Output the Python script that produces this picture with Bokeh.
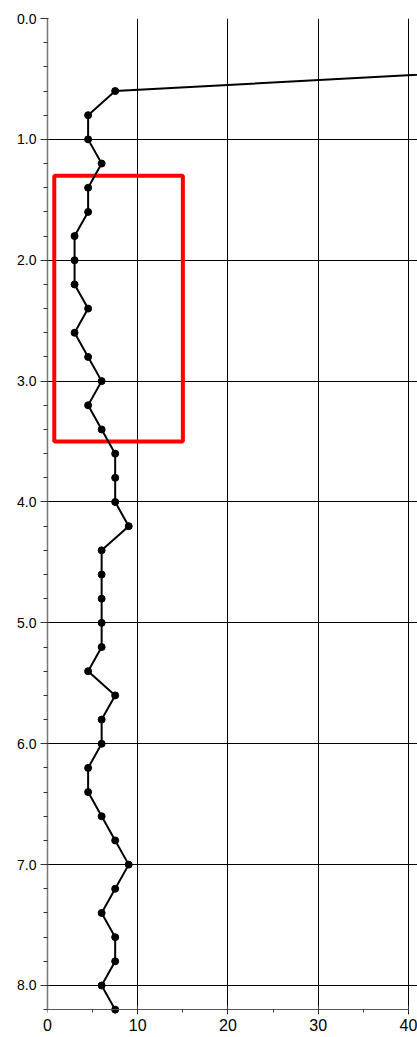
from bokeh.plotting import figure
from bokeh.models import Range1d, FixedTicker, NumeralTickFormatter, LinearAxis
from bokeh.embed import file_html
from bokeh.resources import INLINE

# Data: depth (m) vs value
depth = [0.4, 0.6, 0.8, 1.0, 1.2, 1.4, 1.6, 1.8, 2.0, 2.2, 2.4, 2.6, 2.8, 3.0,
         3.2, 3.4, 3.6, 3.8, 4.0, 4.2, 4.4, 4.6, 4.8, 5.0, 5.2, 5.4, 5.6, 5.8,
         6.0, 6.2, 6.4, 6.6, 6.8, 7.0, 7.2, 7.4, 7.6, 7.8, 8.0, 8.2]
value = [57, 7.5, 4.5, 4.5, 6, 4.5, 4.5, 3, 3, 3, 4.5, 3, 4.5, 6,
         4.5, 6, 7.5, 7.5, 7.5, 9, 6, 6, 6, 6, 6, 4.5, 7.5, 6,
         6, 4.5, 4.5, 6, 7.5, 9, 7.5, 6, 7.5, 7.5, 6, 7.5]

# Highlight box
box_x = [0.75, 15]
box_depth = [1.3, 3.5]

x_ticks = [0, 10, 20, 30, 40]
x_minor = [5, 15, 25, 35]
y_ticks = [0, 1, 2, 3, 4, 5, 6, 7, 8]
y_minor = [round(0.2 * i, 1) for i in range(0, 42)]
depth_max = 8.2

FONT = "Liberation Sans"

p = figure(width=417, height=1037, output_backend="svg", toolbar_location=None,
           x_range=Range1d(0, 41), y_range=Range1d(depth_max + 0.04, 0),
           min_border_left=47, min_border_right=0, min_border_top=18,
           min_border_bottom=23)
p.outline_line_color = None
p.background_fill_color = "white"
p.border_fill_color = "white"

# grids
p.xgrid.ticker = FixedTicker(ticks=[10, 20, 30, 40])
p.ygrid.ticker = FixedTicker(ticks=[1, 2, 3, 4, 5, 6, 7, 8])
p.xgrid.grid_line_color = "black"
p.ygrid.grid_line_color = "black"
p.xgrid.grid_line_width = 1
p.ygrid.grid_line_width = 1

# x axis labels (regular axis, labels only)
xa = p.xaxis[0]
xa.ticker = FixedTicker(ticks=x_ticks)
xa.axis_line_color = None
xa.major_tick_line_color = None
xa.minor_tick_line_color = None
xa.major_tick_out = 0
xa.major_tick_in = 0
xa.minor_tick_out = 0
xa.major_label_standoff = 4
xa.major_label_text_font = FONT
xa.major_label_text_font_size = "16px"
xa.major_label_text_color = "black"

# x axis line and ticks at the bottom depth
xl = LinearAxis(fixed_location=depth_max,
                ticker=FixedTicker(ticks=x_ticks, minor_ticks=x_minor),
                bounds=(0, 40))
xl.axis_line_color = "#555555"
xl.major_tick_line_color = "#333333"
xl.minor_tick_line_color = "#333333"
xl.major_tick_out = 3
xl.major_tick_in = 4
xl.minor_tick_out = 3
xl.minor_tick_in = 0
xl.major_label_text_font_size = "0px"
xl.major_label_text_color = None
p.add_layout(xl, "below")

# y axis
ya = p.yaxis[0]
ya.ticker = FixedTicker(ticks=y_ticks, minor_ticks=y_minor)
ya.bounds = (0, depth_max)
ya.formatter = NumeralTickFormatter(format="0.0")
ya.axis_line_color = "#777777"
ya.axis_line_width = 1.5
ya.major_tick_line_color = "#333333"
ya.minor_tick_line_color = "#333333"
ya.major_tick_out = 7
ya.major_tick_in = 1
ya.minor_tick_out = 4
ya.minor_tick_in = 0
ya.major_label_standoff = 4
ya.major_label_text_font = FONT
ya.major_label_text_font_size = "14px"
ya.major_label_text_color = "black"

# highlight rectangle
p.quad(left=box_x[0], right=box_x[1], top=box_depth[0], bottom=box_depth[1],
       fill_color=None, line_color="#ff0000", line_width=4)

# profile line
p.line(value, depth, line_color="black", line_width=2)
p.scatter(value, depth, size=7, fill_color="black", line_color="black")

open("out.html", "w").write(file_html(p, INLINE))
